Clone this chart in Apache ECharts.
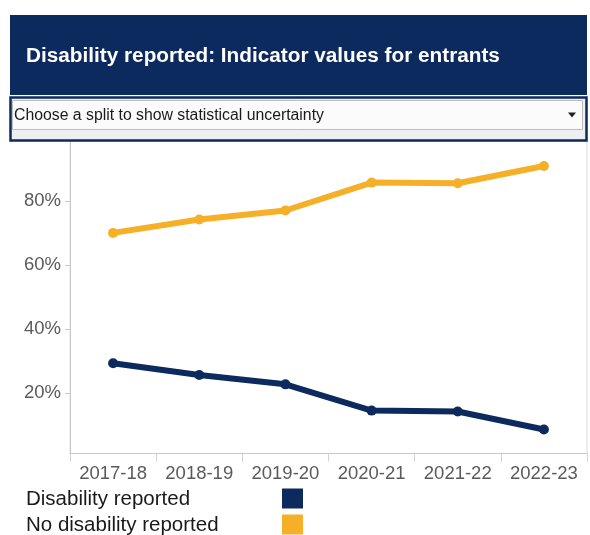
<!DOCTYPE html>
<html>
<head>
<meta charset="utf-8">
<title>Disability reported: Indicator values for entrants</title>
<script src="https://cdn.jsdelivr.net/npm/echarts@6/dist/echarts.min.js"></script>
<style>
  html, body { margin: 0; padding: 0; background: #ffffff; }
  #chart { width: 590px; height: 535px; }
</style>
</head>
<body>
<div id="chart"></div>
<script>
// Academic years on the x axis
const years = ['2017-18', '2018-19', '2019-20', '2020-21', '2021-22', '2022-23'];

// Indicator values (%) for each group of entrants
const disabilityReported = [29.4, 25.7, 22.8, 14.6, 14.3, 8.7];
const noDisabilityReported = [70.1, 74.3, 77.1, 85.8, 85.6, 91.0];

// Labelled ticks on the percentage axis
const yTickValues = [20, 40, 60, 80];

const seriesNames = ['Disability reported', 'No disability reported'];
const seriesColors = ['#0c2a5e', '#f5b027'];

const titleText = 'Disability reported: Indicator values for entrants';
const dropdownText = 'Choose a split to show statistical uncertainty';

const FONT = '"Liberation Sans", Arial, Helvetica, sans-serif';
const NAVY = '#0d2a5e';
const AXIS_GREY = '#c9c9c9';
const LABEL_GREY = '#5a5a5a';

const chart = echarts.init(document.getElementById('chart'), null, { renderer: 'canvas' });

// Legend rows: name on the left, colour swatch at a fixed column
const legendGraphics = [];
seriesNames.forEach(function (name, i) {
  legendGraphics.push({
    type: 'text',
    left: 26,
    top: 488.5 + i * 26.5,
    z: 100,
    style: { text: name, font: '20.5px ' + FONT, fill: '#1a1a1a' }
  });
  legendGraphics.push({
    type: 'rect',
    shape: { x: 282, y: 488.5 + i * 26, width: 21, height: 20 },
    z: 100,
    style: { fill: seriesColors[i] }
  });
});

const option = {
  backgroundColor: '#ffffff',
  animation: false,
  grid: {
    left: 70,
    right: 3,
    top: 141,
    bottom: 81.5,
    show: true,
    borderColor: '#dcdcdc',
    borderWidth: 1,
    backgroundColor: 'transparent'
  },
  xAxis: {
    type: 'category',
    data: years,
    boundaryGap: true,
    axisLine: { show: true, lineStyle: { color: AXIS_GREY, width: 1 } },
    axisTick: { show: true, interval: 0, length: 8, lineStyle: { color: '#d2d2d2' } },
    axisLabel: { interval: 0, hideOverlap: false, fontSize: 18.5, fontFamily: FONT, color: LABEL_GREY, margin: 11 },
    splitLine: { show: false }
  },
  yAxis: {
    type: 'value',
    min: 1.2,
    max: 98.8,
    axisLine: { show: true, lineStyle: { color: AXIS_GREY, width: 1 } },
    axisTick: { show: true, length: 5, customValues: yTickValues, lineStyle: { color: AXIS_GREY } },
    axisLabel: {
      customValues: yTickValues,
      formatter: '{value}%',
      fontSize: 18.5,
      fontFamily: FONT,
      color: LABEL_GREY,
      margin: 9,
      padding: [3, 0, 0, 0]
    },
    splitLine: { show: false }
  },
  series: [
    {
      name: seriesNames[0],
      type: 'line',
      data: disabilityReported,
      symbol: 'circle',
      symbolSize: 10,
      itemStyle: { color: seriesColors[0] },
      lineStyle: { color: seriesColors[0], width: 6 },
      z: 3
    },
    {
      name: seriesNames[1],
      type: 'line',
      data: noDisabilityReported,
      symbol: 'circle',
      symbolSize: 10,
      itemStyle: { color: seriesColors[1] },
      lineStyle: { color: seriesColors[1], width: 6 },
      z: 3
    }
  ],
  graphic: [
    // Title banner
    {
      type: 'rect',
      shape: { x: 10, y: 15, width: 577, height: 80 },
      z: 100,
      style: { fill: NAVY }
    },
    {
      type: 'text',
      left: 26,
      top: 45.5,
      z: 101,
      style: { text: titleText, font: 'bold 20.75px ' + FONT, fill: '#ffffff' }
    },
    // Parameter drop-down
    {
      type: 'rect',
      shape: { x: 10.5, y: 97.5, width: 576, height: 43 },
      z: 100,
      style: { fill: '#efeff1', stroke: NAVY, lineWidth: 2.5 }
    },
    {
      type: 'rect',
      shape: { x: 12.5, y: 100.5, width: 570, height: 29 },
      z: 101,
      style: { fill: '#fbfbfb', stroke: '#bdbdbd', lineWidth: 1 }
    },
    {
      type: 'text',
      left: 14,
      top: 108,
      z: 102,
      style: { text: dropdownText, font: '15.8px ' + FONT, fill: '#1a1a1a' }
    },
    {
      type: 'polygon',
      shape: { points: [[568, 112.5], [576, 112.5], [572, 117.5]] },
      z: 102,
      style: { fill: '#222222' }
    }
  ].concat(legendGraphics)
};

chart.setOption(option);
</script>
</body>
</html>
